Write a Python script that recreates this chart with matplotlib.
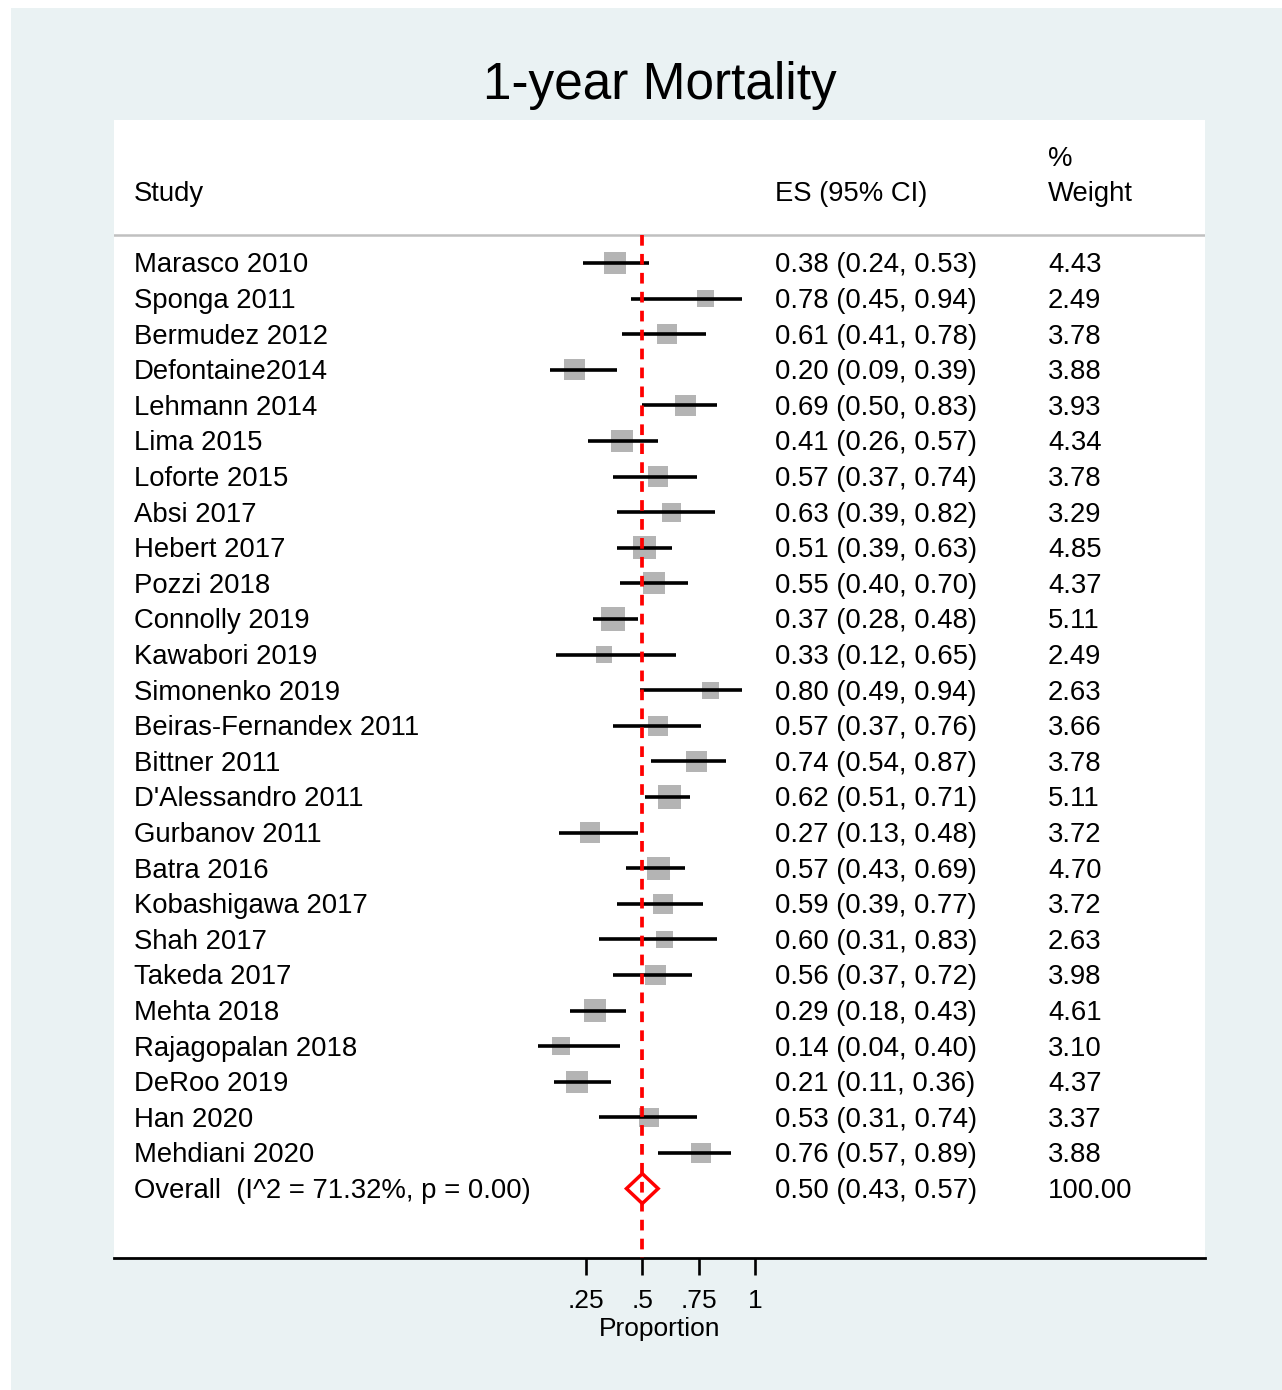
import numpy as np
import matplotlib
matplotlib.use("Agg")
import matplotlib.pyplot as plt
from matplotlib.patches import Rectangle, Polygon

plt.rcParams['font.family'] = ['Liberation Sans', 'DejaVu Sans']

# ── Datos ─────────────────────────────────────────────────
studies = ["Marasco 2010", "Sponga 2011", "Bermudez 2012", "Defontaine2014",
           "Lehmann 2014", "Lima 2015", "Loforte 2015", "Absi 2017",
           "Hebert 2017", "Pozzi 2018", "Connolly 2019", "Kawabori 2019",
           "Simonenko 2019", "Beiras-Fernandex 2011", "Bittner 2011",
           "D'Alessandro 2011", "Gurbanov 2011", "Batra 2016",
           "Kobashigawa 2017", "Shah 2017", "Takeda 2017", "Mehta 2018",
           "Rajagopalan 2018", "DeRoo 2019", "Han 2020", "Mehdiani 2020"]
es = [0.38, 0.78, 0.61, 0.20, 0.69, 0.41, 0.57, 0.63, 0.51, 0.55, 0.37, 0.33,
      0.80, 0.57, 0.74, 0.62, 0.27, 0.57, 0.59, 0.60, 0.56, 0.29, 0.14, 0.21,
      0.53, 0.76]
ci_lo = [0.24, 0.45, 0.41, 0.09, 0.50, 0.26, 0.37, 0.39, 0.39, 0.40, 0.28, 0.12,
         0.49, 0.37, 0.54, 0.51, 0.13, 0.43, 0.39, 0.31, 0.37, 0.18, 0.04, 0.11,
         0.31, 0.57]
ci_hi = [0.53, 0.94, 0.78, 0.39, 0.83, 0.57, 0.74, 0.82, 0.63, 0.70, 0.48, 0.65,
         0.94, 0.76, 0.87, 0.71, 0.48, 0.69, 0.77, 0.83, 0.72, 0.43, 0.40, 0.36,
         0.74, 0.89]
weights = [4.43, 2.49, 3.78, 3.88, 3.93, 4.34, 3.78, 3.29, 4.85, 4.37, 5.11, 2.49,
           2.63, 3.66, 3.78, 5.11, 3.72, 4.70, 3.72, 2.63, 3.98, 4.61, 3.10, 4.37,
           3.37, 3.88]

overall_label = "Overall  (I^2 = 71.32%, p = 0.00)"
overall_es, overall_lo, overall_hi, overall_w = 0.50, 0.43, 0.57, 100.00

xticks = [0.25, 0.5, 0.75, 1]
xtick_labels = [".25", ".5", ".75", "1"]

# ── Figura ────────────────────────────────────────────────
W, H = 1282, 1390
fig = plt.figure(figsize=(W / 100, H / 100), dpi=100, facecolor='white')

# fondo gris-azulado (graph region)
fig.patches.append(Rectangle((11 / W, 0), 1 - 11 / W, 1 - 8 / H,
                             transform=fig.transFigure, facecolor='#EAF2F3',
                             edgecolor='none', zorder=-10))

# plot region blanca
ax = fig.add_axes([114 / W, 1 - 1258 / H, (1205 - 114) / W, (1258 - 120) / H])
ax.set_facecolor('white')

n = len(studies)
rows = np.arange(n)
row_ov = n

x0, sc = 529.2, 226.2
ax.set_xlim((114 - x0) / sc, (1205 - x0) / sc)
rh = 35.6
ax.set_ylim((1258 - 263) / rh, (120 - 263) / rh)

# cuadros de peso
ax.scatter(es, rows, marker='s', s=57.2 * np.array(weights),
           color='#B4B4B4', linewidths=0, zorder=2)
# intervalos de confianza
ax.hlines(rows, ci_lo, ci_hi, color='black', lw=2.6, zorder=3)

# diamante global
dh = 0.42
diamond = Polygon([(overall_lo, row_ov), (overall_es, row_ov - dh),
                   (overall_hi, row_ov), (overall_es, row_ov + dh)],
                  closed=True, facecolor='none', edgecolor='red', lw=2.5,
                  joinstyle='miter', zorder=5)
ax.add_patch(diamond)

# línea de referencia
y_top = (235 - 263) / rh
ax.plot([overall_es, overall_es], [y_top, ax.get_ylim()[0]], color='red',
        lw=2.7, dashes=(2.85, 2.2), zorder=4, solid_capstyle='butt',
        dash_capstyle='butt')

# línea gris del encabezado
ax.axhline(y_top, color='#C0C0C0', lw=1.8, zorder=1)

# ── Textos ────────────────────────────────────────────────
tr = ax.get_yaxis_transform()
fs = 19.8
col_study, col_es, col_w = (134 - 114) / 1091, (775 - 114) / 1091, (1048 - 114) / 1091
base = 9.3 / rh

ax.text(col_study, (201 - 263) / rh, "Study", transform=tr, fontsize=fs, va='baseline')
ax.text(col_es, (201 - 263) / rh, "ES (95% CI)", transform=tr, fontsize=fs, va='baseline')
ax.text(col_w, (166 - 263) / rh, "%", transform=tr, fontsize=fs, va='baseline')
ax.text(col_w, (201 - 263) / rh, "Weight", transform=tr, fontsize=fs, va='baseline')

for i in range(n):
    ax.text(col_study, i + base, studies[i], transform=tr, fontsize=fs, va='baseline')
    ax.text(col_es, i + base, f"{es[i]:.2f} ({ci_lo[i]:.2f}, {ci_hi[i]:.2f})",
            transform=tr, fontsize=fs, va='baseline')
    ax.text(col_w, i + base, f"{weights[i]:.2f}", transform=tr, fontsize=fs, va='baseline')

ax.text(col_study, row_ov + base, overall_label, transform=tr, fontsize=fs, va='baseline')
ax.text(col_es, row_ov + base, f"{overall_es:.2f} ({overall_lo:.2f}, {overall_hi:.2f})",
        transform=tr, fontsize=fs, va='baseline')
ax.text(col_w, row_ov + base, f"{overall_w:.2f}", transform=tr, fontsize=fs, va='baseline')

# ── Ejes ──────────────────────────────────────────────────
for s in ['top', 'left', 'right']:
    ax.spines[s].set_visible(False)
ax.spines['bottom'].set_linewidth(2)
ax.set_yticks([])
ax.set_xticks(xticks)
ax.set_xticklabels(xtick_labels)
ax.tick_params(axis='x', length=12, width=1.9, pad=10, labelsize=19)
ax.set_xlabel("Proportion", fontsize=19, labelpad=3)

fig.text((114 + 1205) / 2 / W, 1 - 99 / H, "1-year Mortality", fontsize=37,
         ha='center', va='baseline')

fig.savefig("out.png", dpi=100, facecolor=fig.get_facecolor())
